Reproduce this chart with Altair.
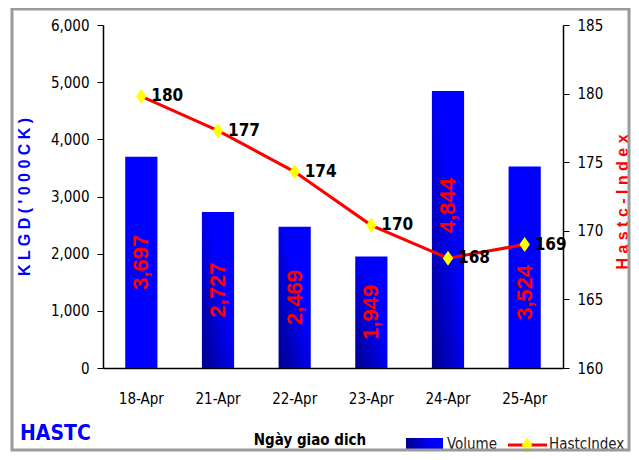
import altair as alt
import pandas as pd

dates = ["18-Apr", "21-Apr", "22-Apr", "23-Apr", "24-Apr", "25-Apr"]
volume = [3697, 2727, 2469, 1949, 4844, 3524]
hastc_index = [179.8, 177.3, 174.3, 170.4, 168.0, 169.0]

NARROW = "Liberation Sans Narrow, Arial Narrow, DejaVu Sans Condensed, sans-serif"
SANS = "Liberation Sans, Arial, sans-serif"

df = pd.DataFrame({"date": dates, "volume": volume, "index": hastc_index})

W, H = 460, 343

x_enc = alt.X(
    "date:N",
    sort=dates,
    scale=alt.Scale(paddingInner=0.58, paddingOuter=0.29),
    axis=alt.Axis(
        title=None, orient="bottom", labelAngle=0, labelFont=NARROW,
        labelFontSize=15, labelColor="#000000", labelPadding=23, ticks=False,
        domainColor="#000000", domainWidth=1.5,
    ),
)

y_vol_scale = alt.Scale(domain=[0, 6000], nice=False)
y_vol_axis = alt.Axis(
    title=None, orient="left", values=[0, 1000, 2000, 3000, 4000, 5000, 6000],
    format=",.0f", grid=False, labelFont=NARROW, labelFontSize=15,
    labelColor="#000000", labelPadding=8, tickSize=6, tickColor="#000000",
    domainColor="#000000", domainWidth=1.5,
)

grad_bar = alt.Gradient(
    gradient="linear",
    stops=[alt.GradientStop(color="#00008B", offset=0),
           alt.GradientStop(color="#0000FF", offset=0.6)],
    x1=0, y1=1, x2=1, y2=0,
)

base = alt.Chart(df)

bars_solid = base.transform_filter(
    "datum.date == '18-Apr' || datum.date == '25-Apr'"
).mark_bar(color="#0000FF").encode(
    x=x_enc, y=alt.Y("volume:Q", scale=y_vol_scale, axis=y_vol_axis)
)
bars_grad = base.transform_filter(
    "datum.date != '18-Apr' && datum.date != '25-Apr'"
).mark_bar(color=grad_bar).encode(
    x=x_enc, y=alt.Y("volume:Q", scale=y_vol_scale, axis=y_vol_axis)
)


def bar_text(filt, shift):
    return base.transform_filter(filt).transform_calculate(
        mid="datum.volume / 2"
    ).mark_text(
        angle=270, color="#FF0000", font=SANS, fontWeight="bold", fontSize=22,
        align="center", baseline="middle",
    ).encode(
        x=x_enc,
        y=alt.Y("mid:Q", scale=y_vol_scale, axis=y_vol_axis),
        text=alt.Text("volume:Q", format=",.0f"),
        yOffset=alt.value(shift),
    )


bt_main = bar_text("datum.date != '24-Apr' && datum.date != '25-Apr'", 0)
bt_24 = bar_text("datum.date == '24-Apr'", -24)
bt_25 = bar_text("datum.date == '25-Apr'", 25)

y_idx_scale = alt.Scale(domain=[160, 185], nice=False, zero=False)
y_idx_axis = alt.Axis(
    title=None, orient="right", values=[160, 165, 170, 175, 180, 185],
    grid=False, labelFont=NARROW, labelFontSize=15, labelColor="#000000",
    labelPadding=8, tickSize=6, tickColor="#000000",
    domainColor="#000000", domainWidth=1.5,
)

DIAMOND = "M0,-1L0.7,0L0,1L-0.7,0Z"

line = base.mark_line(color="#FF0000", strokeWidth=3).encode(
    x=x_enc, y=alt.Y("index:Q", scale=y_idx_scale, axis=y_idx_axis)
)
pts = base.mark_point(
    shape=DIAMOND, filled=True, fill="#FFFF00", size=225, opacity=1, strokeWidth=0
).encode(x=x_enc, y=alt.Y("index:Q", scale=y_idx_scale, axis=y_idx_axis))
pt_text = base.mark_text(
    align="left", baseline="middle", dx=10, font=NARROW, fontWeight="bold",
    fontSize=17, color="#000000",
).encode(
    x=x_enc, y=alt.Y("index:Q", scale=y_idx_scale, axis=y_idx_axis),
    text=alt.Text("index:Q", format=".0f"),
)

left_layer = alt.layer(bars_solid, bars_grad, bt_main, bt_24, bt_25)
right_layer = alt.layer(line, pts, pt_text)

one = pd.DataFrame({"k": [0]})


def label(txt, x, y, **kw):
    return alt.Chart(one).mark_text(text=txt, **kw).encode(
        x=alt.value(x), y=alt.value(y)
    )


left_title = label("K L G D ( ' 0 0 0   C K )", -78, 172, angle=270,
                   font=SANS, fontWeight="bold", fontSize=16, color="#0000FF",
                   align="center", baseline="middle")
right_title = label("H a s t c  -  I n d e x", 520, 177, angle=270,
                    font=SANS, fontWeight="bold", fontSize=16, color="#FF0000",
                    align="center", baseline="middle")
x_title = label("Ngày giao dich", 207, 415, font=NARROW, fontWeight="bold",
                fontSize=15, color="#000000", align="center", baseline="middle")
hastc = label("HASTC", -83, 409, font=NARROW, fontWeight="bold", fontSize=21,
              color="#0000FF", align="left", baseline="middle")

legend_grad = alt.Gradient(
    gradient="linear",
    stops=[alt.GradientStop(color="#00008B", offset=0),
           alt.GradientStop(color="#0000FF", offset=0.7)],
    x1=0, y1=0, x2=1, y2=0,
)
leg_swatch = alt.Chart(one).mark_rect(color=legend_grad).encode(
    x=alt.value(303), x2=alt.value(340), y=alt.value(413), y2=alt.value(426)
)
leg_vol = label("Volume", 344, 419, font=NARROW, fontSize=15, color="#222222",
                align="left", baseline="middle")
leg_rule = alt.Chart(one).mark_rule(color="#FF0000", strokeWidth=3).encode(
    x=alt.value(405), x2=alt.value(444), y=alt.value(420)
)
leg_pt = alt.Chart(one).mark_point(
    shape=DIAMOND, filled=True, fill="#FFFF00", size=225, opacity=1, strokeWidth=0
).encode(x=alt.value(424), y=alt.value(420))
leg_idx = label("HastcIndex", 446, 419, font=NARROW, fontSize=15, color="#222222",
                align="left", baseline="middle")

frame = alt.Chart(one).mark_rect(
    fillOpacity=0, stroke="#9a9a9a", strokeWidth=3
).encode(x=alt.value(-91), x2=alt.value(526), y=alt.value(-16), y2=alt.value(425))

chart = alt.layer(
    left_layer, right_layer, left_title, right_title, x_title, hastc,
    leg_swatch, leg_vol, leg_rule, leg_pt, leg_idx, frame,
).resolve_scale(y="independent").properties(
    width=W, height=H,
    padding={"left": 95, "top": 17, "right": 68, "bottom": 84},
    autosize=alt.AutoSizeParams(type="none"),
    background="#ffffff",
).configure_view(stroke="transparent", strokeWidth=0)

chart.save("out.html", embed_options={"renderer": "svg", "actions": False})
